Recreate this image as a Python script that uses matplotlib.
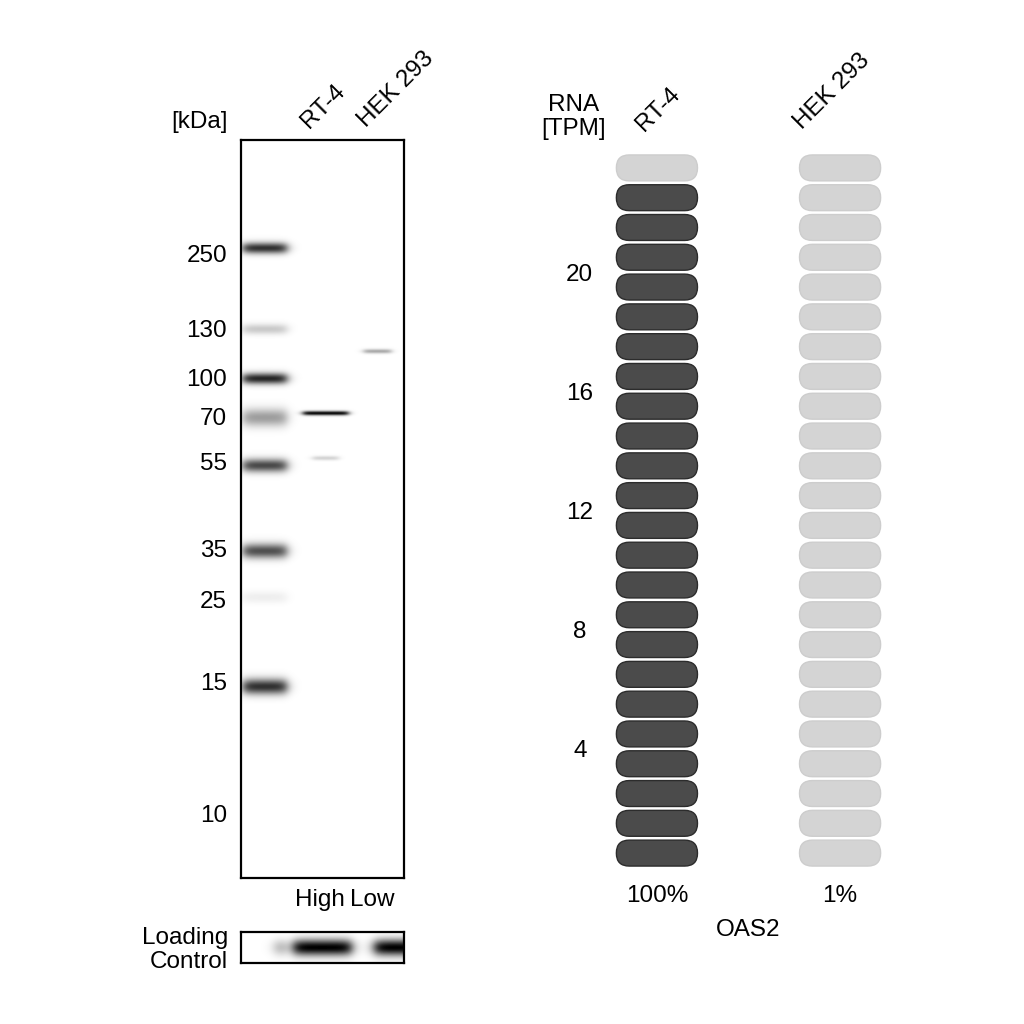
import numpy as np
import matplotlib.pyplot as plt
from matplotlib.patches import FancyBboxPatch

plt.rcParams['font.family'] = ['Liberation Sans', 'DejaVu Sans']

# маркер молекулярной массы (положение - % высоты геля)
marker_kda = [250, 130, 100, 70, 55, 35, 25, 15, 10]
marker_pos = [15.4, 25.5, 32.2, 37.4, 43.5, 55.4, 62.3, 73.4, 91.3]
# полосы маркера (смещены относительно подписей, как на исходном блоте)
ladder_pos = [14.6, 25.6, 32.3, 37.6, 44.1, 55.7, 62.0, 74.1]
ladder_int = [0.85, 0.22, 0.9, 0.4, 0.75, 0.72, 0.07, 0.85]
ladder_sigma = [0.75, 0.7, 0.75, 1.2, 0.9, 1.0, 0.8, 1.05]

# полосы образцов
lanes = ['RT-4', 'HEK 293']
lane_x = [0.52, 0.84]
band_lane = ['RT-4', 'RT-4', 'HEK 293']
band_pos = [37.0, 43.1, 28.6]
band_int = [1.0, 0.18, 0.35]
band_width = [0.28, 0.16, 0.17]

# контроль загрузки
loading_x = [0.24, 0.50, 0.95]
loading_w = [0.07, 0.36, 0.26]
loading_int = [0.3, 1.0, 1.0]
load_labels = ['High', 'Low']

# РНК
rna_samples = ['RT-4', 'HEK 293']
rna_tpm = [23.0, 0.2]
rna_ticks = [4, 8, 12, 16, 20]
n_pills = 24
gene = 'OAS2'

FS = 17.5


def fx(px):
    return px / 1024


def fy(py):
    return 1 - py / 1024


def lane_mask(xx, c, w, soft=0.012):
    return 1 / (1 + np.exp(-(xx - (c - w / 2)) / soft)) * 1 / (1 + np.exp((xx - (c + w / 2)) / soft))


fig = plt.figure(figsize=(10.24, 10.24), dpi=100)

# ---- вестерн-блот ----
ax = fig.add_axes([fx(241), fy(878), fx(163), 738 / 1024])
H, W = 738, 163
yy = np.linspace(0, 100, H)[:, None]
xx = np.linspace(0, 1, W)[None, :]
img = np.zeros((H, W))
for pos, inten, sg in zip(ladder_pos, ladder_int, ladder_sigma):
    img += inten * np.exp(-((yy - pos) / sg) ** 2) * lane_mask(xx, 0.145, 0.27, soft=0.018)
for ln, pos, inten, w in zip(band_lane, band_pos, band_int, band_width):
    c = lane_x[lanes.index(ln)]
    img += inten * np.exp(-((yy - pos) / 0.3) ** 2) * lane_mask(xx, c, w)
ax.imshow(np.clip(img, 0, 1), cmap='gray_r', vmin=0, vmax=1.05, extent=[0, 1, 100, 0],
          aspect='auto', interpolation='bilinear')
ax.set_xlim(0, 1)
ax.set_ylim(100, 0)
ax.set_xticks([])
ax.set_yticks(marker_pos)
ax.set_yticklabels([str(k) for k in marker_kda], fontsize=FS)
ax.tick_params(axis='y', length=0, pad=10)
for s in ax.spines.values():
    s.set_linewidth(1.6)

fig.text(fx(228), fy(122), '[kDa]', ha='right', va='center', fontsize=FS)
for name, (px, py) in zip(lanes, [(313, 133), (370, 132)]):
    fig.text(fx(px), fy(py), name, rotation=45, rotation_mode='anchor',
             ha='left', va='bottom', fontsize=FS)
for name, px in zip(load_labels, [320, 372]):
    fig.text(fx(px), fy(900), name, ha='center', va='center', fontsize=FS)

# контроль загрузки
axl = fig.add_axes([fx(241), fy(963), fx(163), 31 / 1024])
h2 = 31
yy2 = np.linspace(0, 1, h2)[:, None]
img2 = np.zeros((h2, W))
for c, w, inten in zip(loading_x, loading_w, loading_int):
    img2 += inten * np.exp(-((yy2 - 0.5) / 0.27) ** 2) * lane_mask(xx, c, w, soft=0.02)
axl.imshow(np.clip(img2, 0, 1), cmap='gray_r', vmin=0, vmax=1.0, extent=[0, 1, 1, 0],
           aspect='auto', interpolation='bilinear')
axl.set_xticks([])
axl.set_yticks([])
for s in axl.spines.values():
    s.set_linewidth(1.6)
fig.text(fx(228), fy(950), 'Loading\nControl', ha='right', va='center', fontsize=FS,
         linespacing=1.1)

# ---- РНК ----
axr = fig.add_axes([fx(602), fy(868), fx(293), 715 / 1024])
axr.set_xlim(-0.3, 1.3)
axr.set_ylim(0, n_pills)
asp = (n_pills / 715) / (1.6 / 293)
for j, tpm in enumerate(rna_tpm):
    filled = int(round(tpm))
    for i in range(n_pills):
        if i < filled:
            fc, ec = '#4b4b4b', '#2c2c2c'
        else:
            fc, ec = '#d4d4d4', '#cdcdcd'
        p = FancyBboxPatch((j - 0.2215, i + 0.065), 0.443, 0.87,
                           boxstyle='round,pad=0,rounding_size=0.07',
                           mutation_aspect=asp, fc=fc, ec=ec, lw=1)
        axr.add_patch(p)
axr.set_xticks([])
axr.set_yticks(rna_ticks)
axr.set_yticklabels([str(t) for t in rna_ticks], fontsize=FS)
for lab in axr.get_yticklabels():
    lab.set_horizontalalignment('center')
axr.tick_params(axis='y', length=0, pad=16)
for s in axr.spines.values():
    s.set_visible(False)

fig.text(fx(574), fy(117), 'RNA\n[TPM]', ha='center', va='center', fontsize=FS,
         linespacing=1.1)
for name, (px, py) in zip(rna_samples, [(648, 136), (806, 134)]):
    fig.text(fx(px), fy(py), name, rotation=45, rotation_mode='anchor',
             ha='left', va='bottom', fontsize=FS)
mx = max(rna_tpm)
for j, tpm in enumerate(rna_tpm):
    pct = max(1, int(round(tpm / mx * 100)))
    axr.text(j, -0.95, f'{pct}%', ha='center', va='center', fontsize=FS)
fig.text(fx(748), fy(930), gene, ha='center', va='center', fontsize=FS)

plt.savefig('out.png', dpi=100)
